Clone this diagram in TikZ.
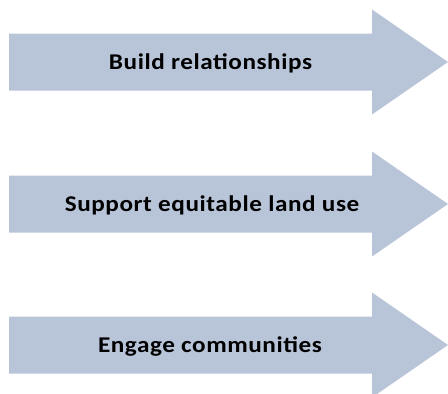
\documentclass[tikz,border=0pt]{standalone}
\usepackage{fontspec}
\setmainfont{Carlito}
\newfontfamily\lblfont[FakeStretch=1.12,LetterSpace=2.5]{Carlito}
\definecolor{arrowfill}{RGB}{184,196,216}
\begin{document}
\begin{tikzpicture}[x=1pt,y=-1pt,
  lbl/.style={font=\lblfont\bfseries\fontsize{22.5}{24}\selectfont, text=black, inner sep=0pt}]
\useasboundingbox (0,0) rectangle (448,394);
\begin{scope}
\clip (0,0) rectangle (448,394);
\foreach \cy/\nm in {62/a1,204/a2,345/a3}{
  \fill[arrowfill] (9,\cy-28.5) -- (372,\cy-28.5) -- (372,\cy-52.5) -- (448,\cy)
     -- (372,\cy+52.5) -- (372,\cy+28.5) -- (9,\cy+28.5) -- cycle;
}
\end{scope}
\node[lbl] (t1) at (210.5,63) {Build relationships};
\node[lbl] (t2) at (212,205) {Support equitable land use};
\node[lbl] (t3) at (210,346) {Engage communities};
\end{tikzpicture}
\end{document}
